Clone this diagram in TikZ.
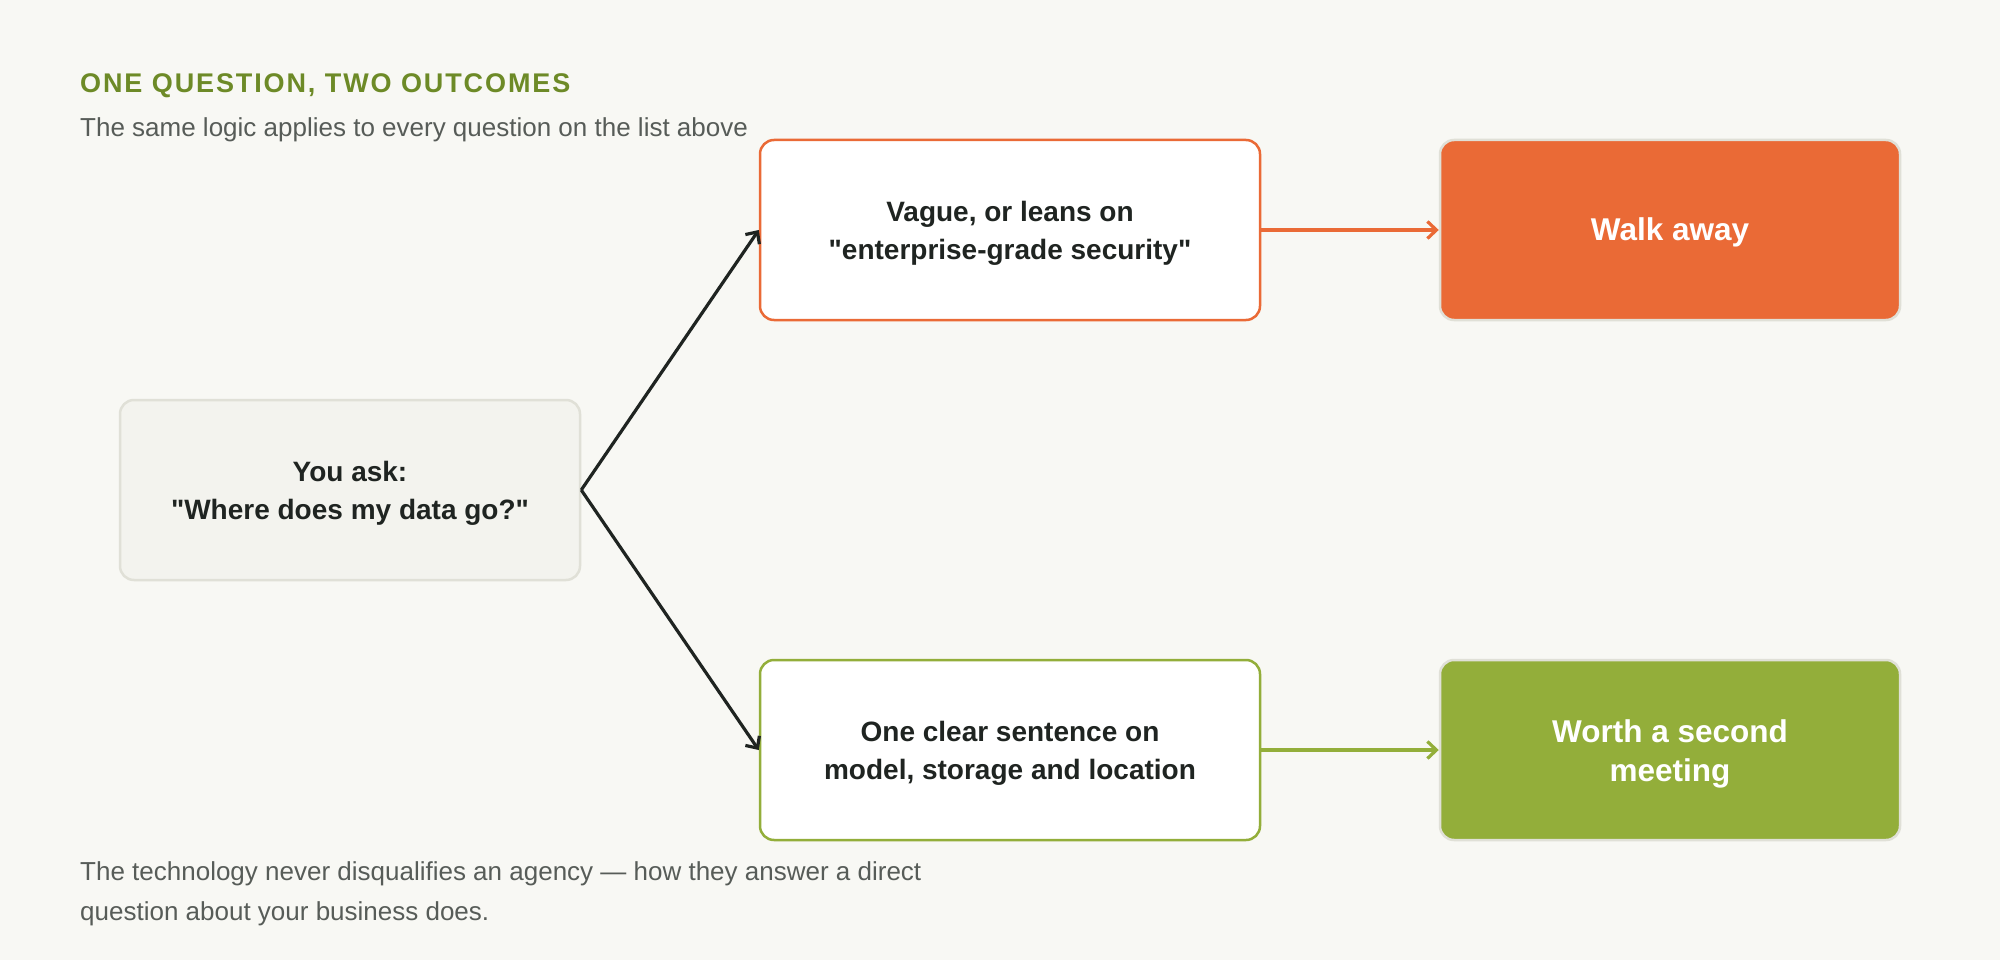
\documentclass[tikz,border=0pt]{standalone}
\usepackage{fontspec}
\setmainfont{Liberation Sans}[Ligatures=TeXOff]
\usetikzlibrary{arrows.meta}

\definecolor{fondo}{HTML}{F8F8F4}
\definecolor{olive}{HTML}{6D8A27}
\definecolor{subgray}{HTML}{575C58}
\definecolor{ink}{HTML}{1F2421}
\definecolor{naranja}{HTML}{EA6A36}
\definecolor{verde}{HTML}{93AE3A}
\definecolor{gris}{HTML}{F3F3EE}
\definecolor{grisborde}{HTML}{E0E0D7}

\tikzset{
  caja/.style={draw, rounded corners=14pt, line width=2.5pt, minimum width=500pt,
    minimum height=180pt, align=center, text=ink, text height=64pt,
    font=\fontsize{28}{37.5}\selectfont\bfseries},
  resultado/.style={caja, draw=grisborde, text=white, minimum width=460pt,
    font=\fontsize{31.5}{38.5}\selectfont\bfseries},
  flecha/.style={line width=3.2pt, -{Straight Barb[length=9pt,width=17pt]}}
}

\begin{document}
\begin{tikzpicture}[x=1pt,y=-1pt]
        % Step 1: Page and background
        \fill[fondo] (0,0) rectangle (2000,960);
        \useasboundingbox (0,0) rectangle (2000,960);

        % Step 2: Title and subtitle
        \node[anchor=base west, inner sep=0, text=olive,
              font=\fontsize{27}{30}\selectfont\bfseries\addfontfeatures{LetterSpace=7}]
             (T) at (80,93) {ONE QUESTION, TWO OUTCOMES};
        \node[anchor=base west, inner sep=0, text=subgray,
              font=\fontsize{26}{30}\selectfont]
             (S) at (80,137) {The same logic applies to every question on the list above};

        % Step 3: The question box
        \node[caja, draw=grisborde, fill=gris, minimum width=460pt]
             (Q) at (350,490) {You ask:\\"Where does my data go?"};

        % Step 4: The two possible answers
        \node[caja, draw=naranja, fill=white] (V) at (1010,230)
             {Vague, or leans on\\"enterprise-grade security"};
        \node[caja, draw=verde, fill=white] (C) at (1010,750)
             {One clear sentence on\\model, storage and location};

        % Step 5: The two outcomes
        \node[resultado, fill=naranja, text height=28pt] (W) at (1670,230) {Walk away};
        \node[resultado, fill=verde, text height=69pt] (M) at (1670,750)
             {Worth a second\\meeting};

        % Step 6: Arrows from the question to the answers
        \draw[flecha, ink] (Q.east) -- (V.west);
        \draw[flecha, ink] (Q.east) -- (C.west);

        % Step 7: Arrows from the answers to the outcomes
        \draw[flecha, naranja] (V.east) -- (W.west);
        \draw[flecha, verde] (C.east) -- (M.west);

        % Step 8: Closing note
        \node[anchor=base west, inner sep=0, align=left, text=subgray,
              font=\fontsize{26}{39.5}\selectfont]
             (N) at (80,920) {The technology never disqualifies an agency — how they answer a direct\\question about your business does.};
\end{tikzpicture}
\end{document}
